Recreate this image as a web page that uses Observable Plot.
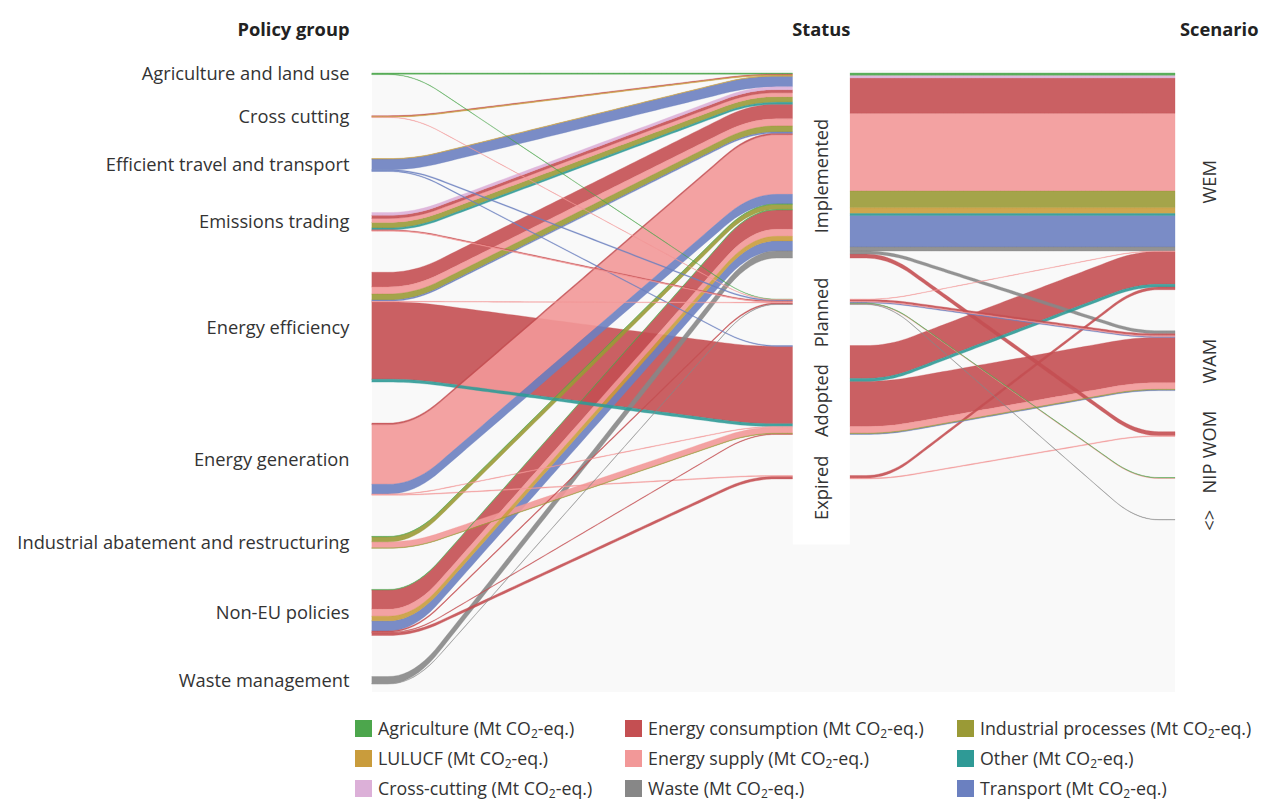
<!DOCTYPE html>
<html><head><meta charset="utf-8">
<script src="https://cdn.jsdelivr.net/npm/d3@7"></script>
<script src="https://cdn.jsdelivr.net/npm/@observablehq/plot@0.6"></script>
<style>
body{margin:0;background:#fff;font-family:"Open Sans",sans-serif;color:#333;overflow:hidden;}
#chart{width:1274px;height:700px;}
#legend{display:grid;grid-template-columns:270px 332px 300px;grid-auto-rows:30px;margin:13px 0 0 355px;font-size:17.8px;line-height:22px;color:#333;}
#legend .it{display:flex;align-items:center;white-space:nowrap;}
#legend .sw{width:17px;height:17px;margin-right:6px;flex:none;}
#legend sub{font-size:12px;vertical-align:-3px;line-height:0;}
</style></head><body>
<div id="chart"></div>
<div id="legend"></div>
<script>
const policyGroups = ["Agriculture and land use","Cross cutting","Efficient travel and transport","Emissions trading","Energy efficiency","Energy generation","Industrial abatement and restructuring","Non-EU policies","Waste management"];
const statuses = ["Implemented","Planned","Adopted","Expired"];
const scenarios = ["WEM","WAM","WOM","NIP","<>"];
const sectors = ["Agriculture","Cross-cutting","Energy consumption","Energy supply","Industrial processes","LULUCF","Other","Transport","Waste"];
const sectorColors = ["#4ca64c","#dcb0d8","#c44f52","#f29898","#9a9a36","#c99c3c","#2f9a96","#6b80c0","#878787"];
const legendOrder = ["Agriculture","Energy consumption","Industrial processes","LULUCF","Energy supply","Other","Cross-cutting","Waste","Transport"];
const headers = ["Policy group","Status","Scenario"];

// [policy group, status, scenario, sector, Mt CO2-eq.]
const flows = [
 ["Agriculture and land use","Implemented","WEM","Agriculture",1.2],
 ["Agriculture and land use","Planned","NIP","Agriculture",0.4],
 ["Cross cutting","Implemented","WEM","Energy consumption",0.8],
 ["Cross cutting","Implemented","WEM","LULUCF",0.7],
 ["Cross cutting","Planned","WEM","Energy supply",0.4],
 ["Efficient travel and transport","Implemented","WEM","LULUCF",0.5],
 ["Efficient travel and transport","Implemented","WEM","Transport",10.5],
 ["Efficient travel and transport","Planned","WAM","Transport",1.0],
 ["Efficient travel and transport","Adopted","WAM","Transport",0.8],
 ["Emissions trading","Implemented","WEM","Cross-cutting",2.8],
 ["Emissions trading","Implemented","WEM","Energy consumption",3.0],
 ["Emissions trading","Implemented","WEM","Energy supply",4.0],
 ["Emissions trading","Implemented","WEM","Industrial processes",5.5],
 ["Emissions trading","Implemented","WEM","Other",1.8],
 ["Emissions trading","Planned","WAM","Energy consumption",0.8],
 ["Emissions trading","Planned","WAM","Energy supply",0.6],
 ["Energy efficiency","Implemented","WEM","Energy consumption",14.5],
 ["Energy efficiency","Implemented","WEM","Energy supply",7.0],
 ["Energy efficiency","Implemented","WEM","Industrial processes",6.0],
 ["Energy efficiency","Implemented","WEM","Transport",1.2],
 ["Energy efficiency","Planned","NIP","Energy supply",0.6],
 ["Energy efficiency","Adopted","WEM","Energy consumption",32.5],
 ["Energy efficiency","Adopted","WAM","Energy consumption",44.0],
 ["Energy efficiency","Adopted","WEM","Other",2.8],
 ["Energy generation","Implemented","WEM","Energy consumption",1.5],
 ["Energy generation","Implemented","WEM","Energy supply",59.0],
 ["Energy generation","Implemented","WEM","Transport",9.5],
 ["Energy generation","Adopted","WAM","Energy supply",0.6],
 ["Energy generation","Expired","WOM","Energy supply",0.8],
 ["Industrial abatement and restructuring","Implemented","WEM","Agriculture",0.4],
 ["Industrial abatement and restructuring","Implemented","WEM","Industrial processes",5.0],
 ["Industrial abatement and restructuring","Adopted","WAM","Energy supply",6.0],
 ["Industrial abatement and restructuring","Adopted","WAM","Industrial processes",0.5],
 ["Non-EU policies","Implemented","WEM","Agriculture",0.6],
 ["Non-EU policies","Implemented","WEM","Energy consumption",15.0],
 ["Non-EU policies","Implemented","WOM","Energy consumption",4.0],
 ["Non-EU policies","Implemented","WEM","Energy supply",7.0],
 ["Non-EU policies","Implemented","WEM","LULUCF",4.5],
 ["Non-EU policies","Implemented","WEM","Transport",10.0],
 ["Non-EU policies","Planned","WAM","Energy consumption",1.2],
 ["Non-EU policies","Adopted","WAM","Energy consumption",0.7],
 ["Non-EU policies","Expired","WEM","Energy consumption",2.6],
 ["Waste management","Implemented","WEM","Waste",4.0],
 ["Waste management","Implemented","WAM","Waste",3.0],
 ["Waste management","Planned","<>","Waste",0.4]
];

// layout options
const axisX = {policy: 0, statusL: 0.524, statusR: 0.595, scenario: 1};
const total = d3.sum(flows, d => d[4]);
const gap = total * 0.145;

function layout(names, key) {
  const sums = d3.rollup(flows, v => d3.sum(v, d => d[4]), d => d[key]);
  let y = 0; const nodes = new Map();
  for (const n of names) { const v = sums.get(n) || 0; nodes.set(n, {y0: y, y1: y + v}); y += v + gap; }
  return nodes;
}
const pNodes = layout(policyGroups, 0), sNodes = layout(statuses, 1), cNodes = layout(scenarios, 2);
const D = d3.max(pNodes.values(), d => d.y1);

function makeLinks(ka, kb, namesA, namesB, nodesA, nodesB) {
  const g = d3.rollup(flows, v => d3.sum(v, d => d[4]), d => d[ka], d => d[kb], d => d[3]);
  const list = [];
  for (const [a, m1] of g) for (const [b, m2] of m1) for (const [s, v] of m2) list.push({a, b, sector: s, value: v});
  const si = s => sectors.indexOf(s), ia = n => namesA.indexOf(n), ib = n => namesB.indexOf(n);
  for (const [a, grp] of d3.group(list, d => d.a)) {
    let y = nodesA.get(a).y0;
    grp.sort((p, q) => ib(p.b) - ib(q.b) || si(p.sector) - si(q.sector)).forEach(d => { d.ya0 = y; y += d.value; d.ya1 = y; });
  }
  for (const [b, grp] of d3.group(list, d => d.b)) {
    let y = nodesB.get(b).y0;
    grp.sort((p, q) => ia(p.a) - ia(q.a) || si(p.sector) - si(q.sector)).forEach(d => { d.yb0 = y; y += d.value; d.yb1 = y; });
  }
  return list;
}
const linksA = makeLinks(0, 1, policyGroups, statuses, pNodes, sNodes);
const linksB = makeLinks(1, 2, statuses, scenarios, sNodes, cNodes);

function ramp(t, a, r) {
  const k = 1 / (1 - 2 * a);
  const F = u => u < a ? 0 : u <= 1 - a ? k * (u - a) * (u - a) / 2 : (1 - 2 * a) / 2 + (u - (1 - a));
  return (F(t + r) - F(t - r)) / (2 * r);
}
const pts = []; let rid = 0;
function addRibbons(list, xa, xb, a, r) {
  list.slice().sort((p, q) => q.value - p.value).forEach(d => {
    rid++;
    for (let i = 0; i <= 80; i++) {
      const t = i / 80, s = ramp(t, a, r);
      pts.push({id: rid, sector: d.sector, x: xa + (xb - xa) * t,
        y1: d.ya0 + (d.yb0 - d.ya0) * s, y2: d.ya1 + (d.yb1 - d.ya1) * s});
    }
  });
}
addRibbons(linksA, axisX.policy, axisX.statusL, 0.1, 0.06);
addRibbons(linksB, axisX.statusR, axisX.scenario, 0.12, 0.07);

const mid = n => (n.y0 + n.y1) / 2;
const FS = 18.3;
const chart = Plot.plot({
  width: 1274, height: 700, marginLeft: 372, marginRight: 99, marginTop: 73, marginBottom: 16,
  x: {domain: [0, 1], axis: null},
  y: {domain: [0, D], reverse: true, axis: null},
  color: {domain: sectors, range: sectorColors},
  style: {fontFamily: "Open Sans", fontSize: FS + "px", color: "#333", background: "#fff"},
  marks: [
    Plot.rect([0], {x1: 0, x2: 1, y1: 0, y2: D, fill: "#f9f9f9", insetTop: -3, insetBottom: -8}),
    Plot.area(pts, {x1: "x", y1: "y1", y2: "y2", z: "id", fill: "sector", fillOpacity: 0.9, stroke: "sector", strokeWidth: 0.6, strokeOpacity: 0.55}),
    Plot.rect([0], {x1: axisX.statusL, x2: axisX.statusR, y1: 0, y2: sNodes.get("Expired").y1 + gap * 1.6, fill: "#ffffff", insetTop: -3}),
    Plot.text(policyGroups, {x: axisX.policy, y: d => mid(pNodes.get(d)), text: d => d, dx: -23, textAnchor: "end", fontSize: FS, fill: "#333"}),
    Plot.text(statuses, {x: (axisX.statusL + axisX.statusR) / 2, y: d => mid(sNodes.get(d)), text: d => d, dy: 10, rotate: -90, fontSize: FS, fill: "#333"}),
    Plot.text(scenarios, {x: axisX.scenario, y: d => mid(cNodes.get(d)), text: d => d, dx: 35, rotate: -90, fontSize: FS, fill: "#333"}),
    Plot.text([headers[0]], {x: axisX.policy, frameAnchor: "top", dy: -51, dx: -23, textAnchor: "end", fontSize: FS, fontWeight: "bold", fill: "#222"}),
    Plot.text([headers[1]], {x: axisX.statusR, frameAnchor: "top", dy: -51, textAnchor: "end", fontSize: FS, fontWeight: "bold", fill: "#222"}),
    Plot.text([headers[2]], {x: axisX.scenario, frameAnchor: "top", dy: -51, dx: 83, textAnchor: "end", fontSize: FS, fontWeight: "bold", fill: "#222"})
  ]
});
document.getElementById("chart").append(chart);

const leg = document.getElementById("legend");
for (const s of legendOrder) {
  const it = document.createElement("div"); it.className = "it";
  const sw = document.createElement("span"); sw.className = "sw"; sw.style.background = sectorColors[sectors.indexOf(s)];
  const tx = document.createElement("span"); tx.innerHTML = s + " (Mt CO<sub>2</sub>-eq.)";
  it.append(sw, tx); leg.append(it);
}
</script>
</body></html>
